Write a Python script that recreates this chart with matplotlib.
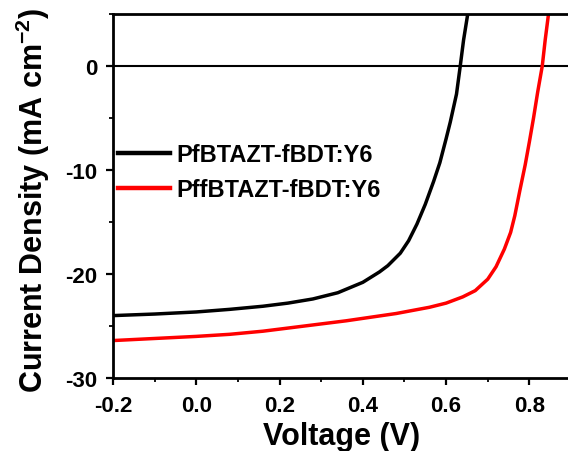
import matplotlib
matplotlib.use("Agg")
import matplotlib.pyplot as plt
from matplotlib.ticker import MultipleLocator

plt.rcParams['font.family'] = ['Liberation Sans', 'DejaVu Sans']
plt.rcParams['font.weight'] = 'bold'
plt.rcParams['mathtext.fontset'] = 'custom'
plt.rcParams['mathtext.bf'] = 'Liberation Sans:bold'
plt.rcParams['mathtext.rm'] = 'Liberation Sans:bold'

# J-V curves (voltage in V, current density in mA cm^-2)
v_pf = [-0.2, -0.1, 0.0, 0.08, 0.16, 0.22, 0.28, 0.34, 0.40, 0.44, 0.46, 0.49, 0.51,
        0.53, 0.55, 0.57, 0.585, 0.60, 0.61, 0.625, 0.634, 0.642, 0.652]
j_pf = [-24.0, -23.85, -23.65, -23.4, -23.1, -22.8, -22.4, -21.8, -20.8, -19.8, -19.2,
        -18.0, -16.8, -15.2, -13.3, -11.1, -9.3, -7.0, -5.4, -2.7, 0.0, 2.5, 5.0]

v_pff = [-0.2, -0.1, 0.0, 0.08, 0.16, 0.28, 0.36, 0.48, 0.56, 0.60, 0.64, 0.67, 0.70,
         0.72, 0.74, 0.755, 0.765, 0.777, 0.79, 0.80, 0.81, 0.82, 0.831, 0.838, 0.846]
j_pff = [-26.4, -26.2, -26.0, -25.8, -25.5, -24.9, -24.5, -23.8, -23.2, -22.8, -22.2,
         -21.6, -20.5, -19.3, -17.6, -16.0, -14.4, -12.0, -9.5, -7.3, -5.0, -2.5, 0.0,
         2.5, 5.0]

labels = ['PfBTAZT-fBDT:Y6', 'PffBTAZT-fBDT:Y6']
colors = ['black', 'red']

fig = plt.figure(figsize=(5.68, 4.52), dpi=100)
ax = fig.add_axes([113/568, 1-379/452, 458/568, 364/452])

ax.plot(v_pf, j_pf, color=colors[0], lw=2.5, label=labels[0])
ax.plot(v_pff, j_pff, color=colors[1], lw=2.5, label=labels[1])
ax.axhline(0, color='black', lw=1.5, zorder=1)

ax.set_xlim(-0.2, 0.9)
ax.set_ylim(-30, 5)
ax.xaxis.set_minor_locator(MultipleLocator(0.1))
ax.yaxis.set_minor_locator(MultipleLocator(5))
ax.set_xticks([-0.2, 0.0, 0.2, 0.4, 0.6, 0.8])
ax.set_xticklabels(['-0.2', '0.0', '0.2', '0.4', '0.6', '0.8'])
ax.set_yticks([-30, -20, -10, 0])
ax.set_yticklabels(['-30', '-20', '-10', '0'])

for s in ax.spines.values():
    s.set_linewidth(2.0)
ax.tick_params(which='major', direction='out', length=5, width=1.6, labelsize=16)
ax.tick_params(axis='y', which='major', pad=6)
ax.tick_params(axis='x', which='major', pad=7)
ax.tick_params(which='minor', direction='out', length=3, width=1.3)
for lab in ax.get_xticklabels() + ax.get_yticklabels():
    lab.set_fontweight('bold')

ax.set_xlabel('Voltage (V)', fontsize=22, fontweight='bold')
ax.xaxis.set_label_coords(0.5, -0.118)
ax.set_ylabel('Current Density (mA cm$^{\\mathbf{-2}}$)', fontsize=22, fontweight='bold')
ax.yaxis.set_label_coords(-0.133, 0.49)

leg = ax.legend(loc='upper left', bbox_to_anchor=(0.011, 0.645), frameon=False,
                prop={'size': 17, 'weight': 'bold'}, handlelength=2.2, handletextpad=0.25,
                labelspacing=0.5, borderaxespad=0, borderpad=0)
for line in leg.get_lines():
    line.set_linewidth(3.2)

fig.savefig('out.png', dpi=100)
